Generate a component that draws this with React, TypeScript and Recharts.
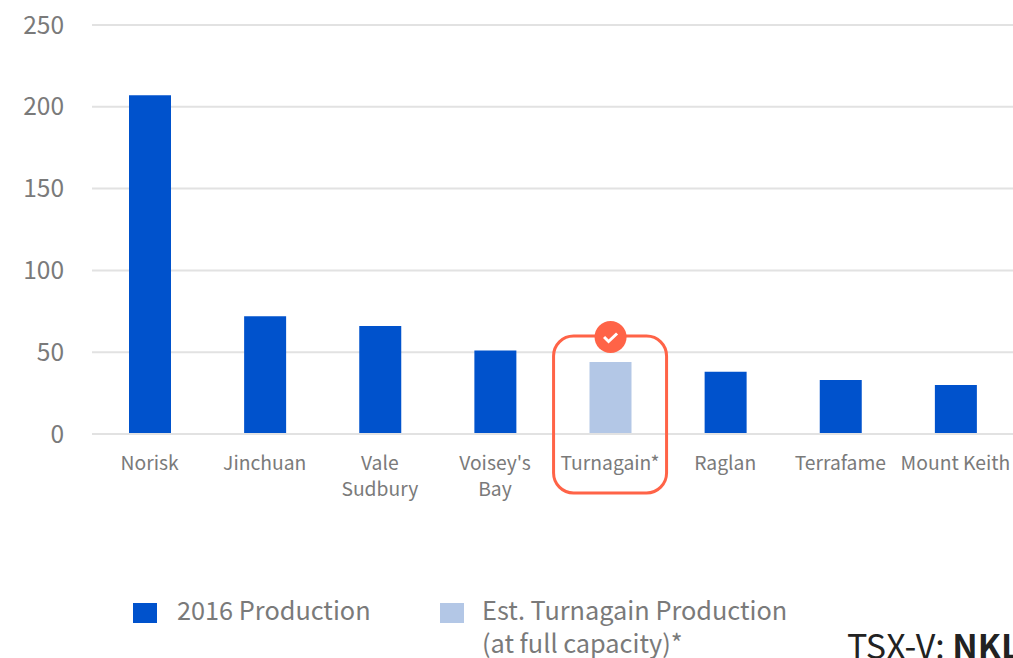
import { Bar, BarChart, CartesianGrid, XAxis, YAxis } from "recharts";

const categories = [
  "Norisk",
  "Jinchuan",
  "Vale\nSudbury",
  "Voisey's\nBay",
  "Turnagain*",
  "Raglan",
  "Terrafame",
  "Mount Keith",
];
const production2016 = [207, 72, 66, 51, null, 38, 33, 30];
const estTurnagain = [null, null, null, null, 44, null, null, null];
const yTicks = [0, 50, 100, 150, 200, 250];

const highlighted = "Turnagain*";
const BLUE = "#0052cc";
const LIGHT_BLUE = "#b3c7e6";
const CORAL = "#ff6347";
const GRID = "#e2e2e2";
const TEXT = "#7a7a7a";
const FONT = '"Noto Sans CJK SC", "Noto Sans", sans-serif';

const data = categories.map((name, i) => ({
  name,
  production: production2016[i],
  est: estTurnagain[i],
}));

function CategoryTick({ x, y, payload }: any) {
  const lines: string[] = payload.value.split("\n");
  return (
    <g transform={`translate(${x},${y})`}>
      {payload.value === highlighted && (
        <g>
          <rect
            x={-56.5}
            y={-106}
            width={113}
            height={157}
            rx={20}
            ry={20}
            fill="none"
            stroke={CORAL}
            strokeWidth={3}
          />
          <circle cx={0.5} cy={-105} r={16} fill={CORAL} />
          <path
            d="M-6 -105 L-1.5 -100.5 L7 -108.5"
            fill="none"
            stroke="#fff"
            strokeWidth={3}
          />
        </g>
      )}
      {lines.map((line, i) => (
        <text
          key={line}
          x={0}
          y={28 + i * 26}
          textAnchor="middle"
          fontSize={19.3}
          fontFamily={FONT}
          fill={TEXT}
        >
          {line}
        </text>
      ))}
    </g>
  );
}

function LegendSwatch({ color, left }: { color: string; left: number }) {
  return (
    <div
      style={{
        position: "absolute",
        left,
        top: 603,
        width: 24,
        height: 20,
        background: color,
      }}
    />
  );
}

const legendText = {
  position: "absolute",
  fontFamily: FONT,
  fontSize: 25.3,
  lineHeight: "33px",
  color: TEXT,
  whiteSpace: "nowrap",
} as const;

export default function App() {
  return (
    <div
      style={{
        position: "absolute",
        left: 0,
        top: 0,
        width: 1013,
        height: 658,
        overflow: "hidden",
        background: "#fff",
      }}
    >
      <BarChart
        width={1013}
        height={658}
        data={data}
        barSize={42}
        margin={{ top: 25, right: 0, bottom: 0, left: 0 }}
      >
        <CartesianGrid vertical={false} stroke={GRID} strokeWidth={2} />
        <XAxis
          dataKey="name"
          interval={0}
          height={224}
          axisLine={{ stroke: GRID, strokeWidth: 2 }}
          tickLine={false}
          tick={<CategoryTick />}
        />
        <YAxis
          width={92}
          domain={[0, 250]}
          ticks={yTicks}
          axisLine={false}
          tickLine={false}
          tickMargin={22}
          tick={{ fill: TEXT, fontSize: 24.5, fontFamily: FONT }}
        />
        <Bar
          dataKey="production"
          stackId="a"
          fill={BLUE}
          isAnimationActive={false}
        />
        <Bar
          dataKey="est"
          stackId="a"
          fill={LIGHT_BLUE}
          isAnimationActive={false}
        />
      </BarChart>
      <LegendSwatch color={BLUE} left={133} />
      <div style={{ ...legendText, left: 177, top: 593 }}>2016 Production</div>
      <LegendSwatch color={LIGHT_BLUE} left={440} />
      <div style={{ ...legendText, left: 482, top: 593 }}>
        Est. Turnagain Production
        <br />
        (at full capacity)*
      </div>
      <div
        style={{
          position: "absolute",
          left: 847,
          top: 623,
          fontFamily: FONT,
          fontSize: 34,
          lineHeight: "44px",
          color: "#222",
          whiteSpace: "nowrap",
        }}
      >
        TSX-V: <b>NKL</b>
      </div>
    </div>
  );
}
